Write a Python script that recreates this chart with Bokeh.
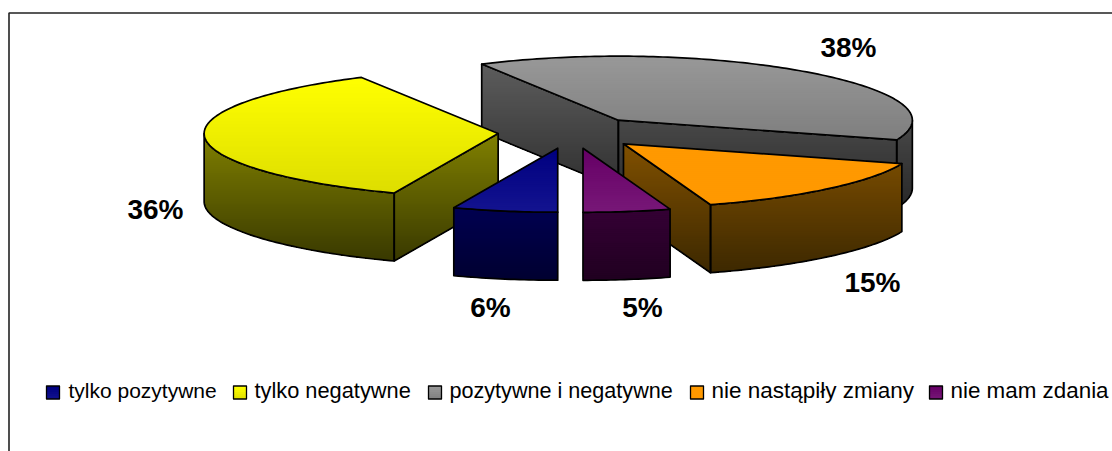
import numpy as np
from bokeh.embed import file_html
from bokeh.resources import INLINE
from bokeh.plotting import figure
from bokeh.models import Range1d
from bokeh.core.properties import value

categories = ["tylko pozytywne", "tylko negatywne", "pozytywne i negatywne", "nie nastąpiły zmiany", "nie mam zdania"]
values = [6, 36, 38, 15, 5]
label_texts = ["6%", "36%", "38%", "15%", "5%"]

# (top of face colour, bottom of face colour)
top_colors = [("#000080", "#141490"), ("#ffff00", "#dddd00"), ("#989898", "#7e7e7e"), ("#ff9900", "#ff9900"), ("#660066", "#781878")]
side_colors = [("#000050", "#000030"), ("#808000", "#383800"), ("#5c5c5c", "#282828"), ("#805000", "#3c2800"), ("#340034", "#200020")]

# layout
W, H = 1112, 451
OX, OY = 0, 0
CX, CY = 571, 132       # pie centre on the page
RX, RY = 294, 64        # projected radii
NARROW = 0.046          # the reference's slices pinch a little towards the vertical axis
DEPTH = 68
EXPLODE = 0.25
START = 180.0
label_pos = [(490, 307), (155, 209), (848, 47), (872, 282), (642, 307)]
legend_marker_x = [46, 233, 428, 690, 929]
legend_text_x = [68, 254, 449, 711, 950]
legend_font_px = [21, 21.8, 21.6, 22.5, 22.4]
LEG_Y = 392
MARK = 13

p = figure(width=W, height=H, output_backend="svg", toolbar_location=None,
           x_range=Range1d(OX, OX + W), y_range=Range1d(OY + H, OY),
           min_border=0, outline_line_color=None, background_fill_color="white",
           border_fill_color="white")
p.axis.visible = False
p.grid.visible = False


def hex2rgb(h):
    return np.array([int(h[i:i + 2], 16) for i in (1, 3, 5)], float)


def clip_below(poly, t):
    """keep the part of poly with y >= t"""
    out = []
    n = len(poly)
    for i in range(n):
        a, b = poly[i], poly[(i + 1) % n]
        ina, inb = a[1] >= t, b[1] >= t
        if ina:
            out.append(a)
        if ina != inb:
            u = (t - a[1]) / (b[1] - a[1])
            out.append((a[0] + u * (b[0] - a[0]), t))
    return out


def gradient_faces(polys, c0, c1, line_width=1.7, step=2.0):
    ys_all = [q[1] for poly in polys for q in poly]
    y0, y1 = min(ys_all), max(ys_all)
    a, b = hex2rgb(c0), hex2rgb(c1)
    for poly in polys:
        xs, ys, cols = [], [], []
        t = y0
        while t < y1:
            c = a + (b - a) * (t - y0) / max(y1 - y0, 1e-6)
            cl = clip_below(poly, t)
            if len(cl) >= 3:
                xs.append([q[0] for q in cl])
                ys.append([q[1] for q in cl])
                cols.append("#%02x%02x%02x" % tuple(int(round(v)) for v in c))
            t += step
        if xs:
            p.patches(xs, ys, fill_color=cols, line_color=None)
    for poly in polys:
        p.patches([[q[0] for q in poly]], [[q[1] for q in poly]], fill_color=None,
                  line_color="black", line_width=line_width, line_join="round")


def pt(cx, cy, th):
    r = np.radians(th)
    return (cx + RX * np.sin(r) * (1 - NARROW * np.cos(r) ** 2), cy - RY * np.cos(r))


def down(q):
    return (q[0], q[1] + DEPTH)


total = sum(values)
angle = START
slices = []
for v in values:
    sweep = 360.0 * v / total
    slices.append((angle, angle + sweep))
    angle += sweep

for i in [2, 1, 3, 0, 4]:  # painter's order, back to front
    s, e = slices[i]
    m = np.radians((s + e) / 2)
    cx = CX + EXPLODE * RX * np.sin(m)
    cy = CY - EXPLODE * RY * np.cos(m)
    apex = (cx, cy)
    arc = [pt(cx, cy, t) for t in np.linspace(s, e, int(e - s) + 2)]
    top = [apex] + arc

    sides = []
    # a radial wall shows only if its outward normal points towards the viewer
    if -np.sin(np.radians(s)) > 1e-6:
        sides.append([apex, arc[0], down(arc[0]), down(apex)])
    if np.sin(np.radians(e)) > 1e-6:
        sides.append([apex, arc[-1], down(arc[-1]), down(apex)])
    for k in (0, 1):
        lo, hi = max(s, 90 + 360 * k), min(e, 270 + 360 * k)
        if hi > lo:
            seg = [pt(cx, cy, t) for t in np.linspace(lo, hi, int(hi - lo) + 2)]
            sides.append(seg + [down(q) for q in seg[::-1]])
    gradient_faces(sides, *side_colors[i])
    gradient_faces([top], *top_colors[i])

# frame of the chart area
p.line([8.5, 8.5, OX + W], [OY + H, 12.5, 12.5], line_color="#222222", line_width=1.6)

# data labels
for txt, (lx, ly) in zip(label_texts, label_pos):
    p.text([lx], [ly], text=[txt], text_font=value("Liberation Sans"), text_font_style="bold",
           text_font_size="28px", text_align="center", text_baseline="middle", text_color="black")

# legend
for i, cat in enumerate(categories):
    mx = legend_marker_x[i]
    c0, c1 = top_colors[i]
    gradient_faces([[(mx, LEG_Y - MARK / 2), (mx + MARK, LEG_Y - MARK / 2),
                     (mx + MARK, LEG_Y + MARK / 2), (mx, LEG_Y + MARK / 2)]], c0, c1, line_width=1.3)
    p.text([legend_text_x[i]], [LEG_Y - 2], text=[cat], text_font=value("Liberation Sans"),
           text_font_size=f"{legend_font_px[i]}px", text_align="left", text_baseline="middle", text_color="black")

open("out.html", "w").write(file_html(p, INLINE))
